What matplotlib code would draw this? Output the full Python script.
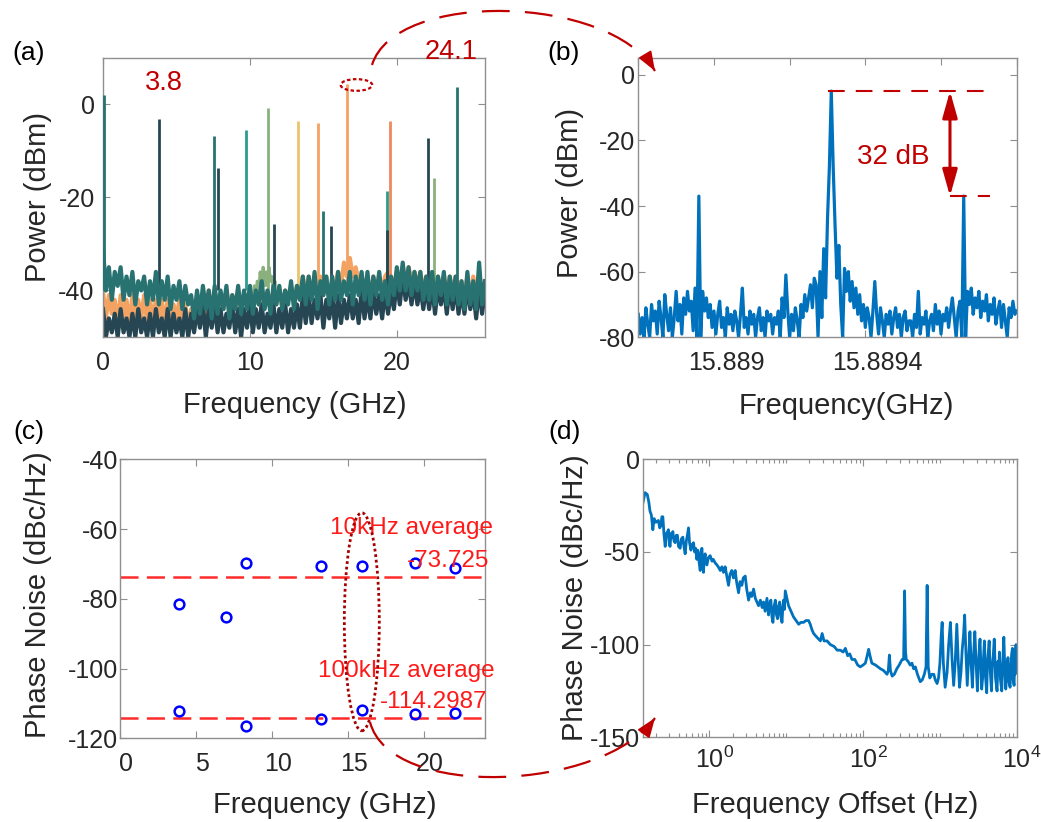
import numpy as np
import matplotlib
matplotlib.use("Agg")
import matplotlib.pyplot as plt
from matplotlib.patches import Ellipse, PathPatch, FancyArrowPatch
from matplotlib.path import Path
from matplotlib.transforms import ScaledTranslation
from matplotlib.ticker import FixedLocator, LogLocator, NullFormatter

plt.rcParams["font.family"] = ["Liberation Sans", "DejaVu Sans"]
plt.rcParams["mathtext.fontset"] = "custom"
plt.rcParams["mathtext.rm"] = "Liberation Sans"
plt.rcParams["mathtext.it"] = "Liberation Sans:italic"
plt.rcParams["mathtext.bf"] = "Liberation Sans:bold"
plt.rcParams["lines.scale_dashes"] = False
plt.rcParams["axes.unicode_minus"] = False

# ---------------------------------------------------------------- colours
DARK = "#264653"
TEAL = "#287271"
CYAN = "#2a9d8f"
GREEN = "#8ab17d"
YELLOW = "#e9c46a"
ORANGE = "#f4a261"
REDOR = "#ee8959"
BLUE = "#0072bd"
DARKRED = "#c00000"
TXT = "#262626"
FRAME = "#8f8f8f"

# ---------------------------------------------------------------- (a) RF spectra of the comb lines
a_step = 0.2          # GHz, sweep spacing of the floor traces
teal_floor = [
    -31, -40, -35, -42, -36, -39, -35, -42, -37, -41,
    -36, -43, -38, -40, -37, -43, -38, -42, -36, -43,
    -38, -42, -37, -44, -39, -42, -38, -44, -39, -43,
    -41, -46, -40, -45, -39, -44, -40, -46, -39, -45,
    -40, -44, -39, -46, -41, -44, -39, -45, -40, -44,
    -39, -45, -40, -43, -38, -44, -40, -45, -39, -43,
    -39, -44, -40, -43, -38, -44, -39, -42, -37, -43,
    -37, -42, -36, -44, -38, -41, -37, -43, -37, -42,
    -36, -42, -38, -41, -36, -43, -37, -41, -36, -42,
    -36, -43, -37, -41, -36, -42, -38, -43, -37, -41,
    -35, -40, -34, -40, -35, -41, -36, -40, -36, -42,
    -37, -42, -36, -43, -37, -41, -36, -43, -37, -42,
    -37, -43, -38, -44, -36, -43, -38, -44, -34, -43, -38,
]
dark_floor = [
    -44, -50, -46, -49, -45, -50, -44, -49, -46, -50,
    -45, -50, -44, -49, -46, -50, -45, -50, -44, -49,
    -46, -50, -44, -50, -45, -49, -46, -50, -44, -50,
    -45, -49, -44, -48, -43, -50, -44, -48, -43, -49,
    -44, -49, -45, -48, -43, -49, -44, -50, -44, -48,
    -43, -49, -44, -48, -43, -49, -45, -48, -43, -49,
    -44, -48, -43, -49, -44, -48, -43, -48, -41, -47,
    -41, -47, -42, -46, -41, -48, -42, -46, -41, -48,
    -41, -47, -42, -46, -41, -46, -42, -47, -40, -46,
    -41, -46, -40, -45, -41, -46, -40, -45, -40, -44,
    -38, -43, -37, -42, -38, -43, -38, -43, -39, -44,
    -39, -44, -39, -45, -39, -43, -39, -45, -39, -44,
    -39, -45, -40, -45, -39, -44, -40, -46, -39, -45, -40,
]
orange_floor = [
    -40, -46, -41, -45, -42, -47, -41, -46, -42, -47,
    -41, -47, -42, -46, -41, -47, -42, -46, -42, -47,
    -42, -47, -42, -48, -43, -46, -42, -47, -43, -48,
    -44, -48, -42, -46, -41, -45, -40, -44, -40, -45,
    -41, -44, -40, -43, -41, -44, -40, -44, -41, -43,
    -41, -44, -40, -43, -41, -43, -40, -43, -40, -43,
    -40, -43, -40, -42, -40, -42, -39, -42, -37, -41,
    -37, -41, -38, -41, -37, -41, -37, -42, -38, -39,
    -36, -39, -34, -37, -33, -37, -35, -38, -38, -39,
    -37, -41, -37, -40, -37, -40, -37, -36, -37, -39,
    -36, -38, -35, -38, -35, -38, -36, -39, -36, -40,
    -37, -40, -37, -40, -37, -40, -37, -41, -37, -40,
    -37, -41, -38, -41, -37, -42, -37, -41, -36, -41, -38,
]
green_hump_freq = [10.2, 10.3, 10.4, 10.5, 10.6, 10.7, 10.8, 10.9, 11.0,
                   11.1, 11.2, 11.3, 11.4, 11.5, 11.6, 11.7, 11.8]
green_hump_power = [-42, -39, -41, -38, -40, -36, -40, -35, -39,
                    -36, -39, -35, -38, -37, -40, -38, -42]
peak_freq = [0.05, 3.8, 7.55, 7.8, 9.7, 11.25, 11.65, 13.3, 14.6,
             15.0, 15.5, 16.6, 19.3, 19.35, 19.55, 22.1, 22.5, 24.1]
peak_power = [2.0, -3.2, -6.8, -13.6, -5.5, -0.7, -25.8, -3.5, -4.0,
              -23.0, -26.2, 4.4, -18.6, -27.0, -3.5, -7.3, -15.7, 3.8]
peak_color = [TEAL, DARK, TEAL, DARK, CYAN, GREEN, DARK, YELLOW, ORANGE,
              TEAL, DARK, ORANGE, CYAN, DARK, REDOR, DARK, GREEN, TEAL]
peak_base = -40

# ---------------------------------------------------------------- (b) zoom on the 15.889 GHz line
b_start = 15.8888     # GHz
b_step = 5e-6         # GHz (5 kHz)
b_power = [
    -73, -79, -74, -80, -71, -76, -80, -70, -75, -72,
    -79, -69, -74, -80, -67, -73, -78, -71, -80, -74,
    -66, -75, -70, -79, -68, -73, -66, -72, -69, -78,
    -65, -80, -37, -80, -66, -72, -68, -74, -70, -77,
    -72, -79, -73, -69, -77, -74, -80, -71, -76, -73,
    -78, -72, -75, -80, -73, -65, -77, -74, -79, -72,
    -76, -73, -80, -74, -71, -78, -74, -80, -72, -75,
    -73, -79, -74, -76, -72, -80, -68, -74, -61, -72,
    -80, -73, -78, -71, -75, -80, -70, -74, -67, -72,
    -68, -64, -71, -62, -64, -80, -60, -74, -53, -68,
    -44, -28, -5, -28, -46, -62, -52, -70, -80, -59,
    -66, -60, -69, -63, -71, -65, -73, -67, -75, -70,
    -77, -71, -74, -80, -72, -63, -73, -79, -71, -75,
    -80, -73, -76, -72, -79, -74, -71, -77, -73, -80,
    -74, -72, -78, -75, -75, -80, -73, -77, -66, -79,
    -74, -76, -72, -80, -75, -73, -78, -70, -76, -72,
    -79, -73, -75, -71, -77, -72, -68, -74, -80, -72,
    -69, -80, -37, -80, -66, -70, -65, -73, -68, -71,
    -66, -74, -69, -72, -67, -75, -70, -73, -68, -76,
    -72, -69, -77, -70, -75, -80, -71, -74, -69, -73, -72,
]
b_carrier = -5        # dBm
b_sideband = -37      # dBm

# ---------------------------------------------------------------- (c) phase noise of each line
c_freq_10k = [3.9, 7.0, 8.3, 13.2, 15.9, 19.4, 22.0]
c_pn_10k = [-81.5, -85.1, -69.6, -70.6, -70.5, -69.8, -71.1]
c_freq_100k = [3.9, 8.3, 13.2, 15.9, 19.4, 22.0]
c_pn_100k = [-112.1, -116.5, -114.5, -111.9, -113.0, -112.7]
avg_10k = -73.725
avg_100k = -114.2987

# ---------------------------------------------------------------- (d) SSB phase noise of the 15.889 GHz line
d_offset = [
    0.135, 0.145, 0.155, 0.162, 0.168, 0.175, 0.183, 0.19, 0.2, 0.216,
    0.225, 0.232, 0.24, 0.247, 0.255, 0.265, 0.275, 0.285, 0.292, 0.3,
    0.307, 0.315, 0.325, 0.333, 0.345, 0.357, 0.37, 0.382, 0.395, 0.415,
    0.43, 0.45, 0.465, 0.482, 0.5, 0.52, 0.533, 0.55, 0.573, 0.595,
    0.619, 0.64, 0.66, 0.685, 0.7, 0.718, 0.735, 0.757, 0.775, 0.796,
    0.815, 0.835, 0.855, 0.879, 0.9, 0.925, 0.97, 1.02, 1.08, 1.12,
    1.19, 1.25, 1.3, 1.38, 1.45, 1.52, 1.6, 1.68, 1.77, 1.85,
    1.95, 2.05, 2.16, 2.25, 2.39, 2.5, 2.64, 2.75, 2.92, 3.05,
    3.23, 3.4, 3.55, 3.75, 3.95, 4.15, 4.35, 4.6, 4.85, 5.06,
    5.3, 5.6, 5.87, 6.05, 6.3, 6.5, 6.7, 6.9, 7.2, 7.45,
    7.7, 7.95, 8.2, 8.5, 8.8, 9.0, 9.2, 9.45, 9.7, 10.2,
    10.7, 11.5, 12.4, 13.4, 14.5, 15.5, 16.8, 18.0, 19.5, 20.5,
    21.6, 22.7, 25.0, 27.8, 29.3, 31.0, 34.0, 37.5, 42.0, 46.0,
    50.6, 55.0, 58.8, 63.0, 67.0, 71.6, 78.0, 85.0, 91.7, 100,
    107, 113, 118, 123, 130, 145, 168, 185, 205, 213,
    220, 227, 239, 255, 275, 295, 322, 337, 347, 357,
    365, 385, 410, 433, 455, 479, 510, 555, 590, 627,
    660, 682, 705, 739, 785, 833, 870, 920, 960, 1000,
    1040, 1070, 1110, 1170, 1240, 1300, 1370, 1440, 1510, 1580,
    1660, 1730, 1800, 1880, 1950, 2030, 2100, 2180, 2270, 2360,
    2460, 2550, 2650, 2750, 2850, 2960, 3080, 3160, 3250, 3330,
    3420, 3500, 3600, 3700, 3800, 3920, 4070, 4160, 4270, 4380,
    4520, 4700, 4800, 4950, 5100, 5300, 5550, 5700, 5820, 5960,
    6150, 6390, 6550, 6800, 7000, 7200, 7400, 7550, 7700, 7950,
    8200, 8400, 8600, 8800, 9000, 9250, 9400, 9550, 9700, 9800,
    9900, 10000,
]
d_noise = [
    -24, -18, -19, -23, -28, -30, -38, -32, -34, -33,
    -37, -36, -31, -31, -40, -47, -40, -39, -38, -46,
    -47, -40, -42, -39, -44, -45, -41, -41, -47, -48,
    -43, -42, -47, -51, -44, -40, -37, -45, -49, -46,
    -45, -50, -48, -54, -49, -50, -56, -60, -52, -48,
    -55, -61, -53, -51, -56, -57, -53, -52, -55, -54,
    -56, -57, -58, -60, -58, -61, -58, -63, -68, -62,
    -60, -64, -60, -66, -72, -66, -68, -64, -63, -70,
    -76, -72, -74, -70, -75, -77, -79, -76, -80, -77,
    -82, -75, -84, -78, -76, -85, -88, -80, -76, -84,
    -86, -79, -77, -85, -88, -80, -76, -81, -71, -75,
    -79, -82, -85, -87, -89, -88, -88, -87, -87, -89,
    -92, -94, -96, -98, -94, -98, -98, -100, -101, -103,
    -103, -104, -102, -106, -105, -108, -108, -111, -112, -111,
    -110, -106, -102.5, -106, -110, -111, -113, -114, -116, -114,
    -105.6, -114, -117, -116, -113, -111, -108, -108, -71, -104,
    -108, -109, -111, -110, -113, -112, -116, -120, -119, -116,
    -112, -68, -112, -118, -116, -116, -119, -121, -118, -110,
    -95, -88, -110, -123, -115, -100, -88, -108, -122, -110,
    -89, -108, -123, -115, -103, -95, -84, -104, -122, -108,
    -93, -110, -123, -105, -93, -110, -125, -112, -103, -97,
    -112, -124, -118, -107, -98, -117, -126, -110, -104, -98,
    -114, -125, -112, -106, -97, -118, -125, -109, -115, -104,
    -119, -125, -112, -96, -113, -124, -118, -110, -107, -120,
    -123, -112, -105, -102, -119, -122, -110, -116, -103, -100,
    -115, -110,
]

# ---------------------------------------------------------------- figure helpers
W, H = 1041, 822
fig = plt.figure(figsize=(W / 100, H / 100), dpi=100)


def axes_px(left, top, right, bottom):
    return fig.add_axes([left / W, 1 - bottom / H, (right - left) / W, (bottom - top) / H])


def fxy(x, y):
    return (x / W, 1 - y / H)


def style(ax, ypad, xpad=10, xshift_px=0):
    for s in ax.spines.values():
        s.set_color(FRAME)
        s.set_linewidth(1.0)
    ax.tick_params(which="both", direction="in", top=True, right=True,
                   color=FRAME, labelcolor=TXT, labelsize=18, width=0.8)
    ax.tick_params(which="major", length=5)
    ax.tick_params(which="minor", length=3)
    ax.tick_params(axis="x", pad=xpad)
    ax.tick_params(axis="y", pad=ypad)
    if xshift_px:
        off = ScaledTranslation(xshift_px / 100, 0, fig.dpi_scale_trans)
        for lab in ax.get_xticklabels():
            lab.set_transform(lab.get_transform() + off)


def set_labels(ax, xlabel, ylabel, xpos, ypos):
    ax.set_xlabel(xlabel, fontsize=21, color=TXT, va="baseline")
    ax.set_ylabel(ylabel, fontsize=21, color=TXT, va="center")
    ax.xaxis.set_label_coords(*xpos)
    ax.yaxis.set_label_coords(*ypos)


# ---------------------------------------------------------------- (a)
axa = axes_px(103, 58, 485, 337)
a_freq = np.arange(len(teal_floor)) * a_step
floor_lw = 3.0
axa.plot(a_freq, orange_floor, color=ORANGE, lw=floor_lw, zorder=1)
axa.plot(a_freq, dark_floor, color=DARK, lw=floor_lw, zorder=2)
axa.plot(green_hump_freq, green_hump_power, color=GREEN, lw=2.2, zorder=2.5)
axa.vlines(peak_freq, peak_base, peak_power, colors=peak_color, lw=2.0, zorder=3)
axa.plot(a_freq, teal_floor, color=TEAL, lw=floor_lw, zorder=4)
axa.set_xlim(0, 26)
axa.set_ylim(-50, 10)
axa.set_xticks([0, 10, 20])
axa.set_yticks([-40, -20, 0])
axa.add_patch(Ellipse((17.25, 4.2), 2.15, 2.5, fill=False, ec=DARKRED, lw=1.6,
                      ls=(0, (2.5, 1.8)), zorder=6, clip_on=False))
style(axa, ypad=6)
set_labels(axa, "Frequency (GHz)", "Power (dBm)", (0.503, -0.272), (-0.169, 0.503))

# ---------------------------------------------------------------- (b)
axb = axes_px(638.3, 58.3, 1016.7, 337.3)
b_freq = b_start + np.arange(len(b_power)) * b_step
axb.plot(b_freq, b_power, color=BLUE, lw=2.3)
axb.set_xlim(15.8888, 15.8898)
axb.set_ylim(-80, 5)
axb.xaxis.set_major_locator(FixedLocator([15.8888, 15.889, 15.8892, 15.8894, 15.8896, 15.8898]))
axb.set_xticklabels(["", "15.889", "", "15.8894", "", ""])
axb.set_yticks([-80, -60, -40, -20, 0])
x_line_start = 15.889301
x_line_end = 15.889729
x_arrow = 15.8896237
axb.plot([x_line_start, x_line_end], [b_carrier, b_carrier], color=DARKRED, lw=1.5,
         ls=(0, (12, 8)), clip_on=False)
axb.plot([x_arrow, x_line_end], [b_sideband, b_sideband], color=DARKRED, lw=1.5,
         ls=(0, (12, 8)), clip_on=False)
axb.annotate("", xy=(x_arrow, b_carrier), xytext=(x_arrow, b_sideband),
             arrowprops=dict(arrowstyle="<|-|>,head_length=1.6,head_width=0.45",
                             mutation_scale=10, color=DARKRED, lw=2.2,
                             shrinkA=0, shrinkB=0))
axb.text(15.889473, (b_carrier + b_sideband) / 2 - 4, f"{b_carrier - b_sideband} dB",
         color=DARKRED, fontsize=20, ha="center", va="center")
style(axb, ypad=2.5, xshift_px=12)
set_labels(axb, "Frequency(GHz)", "Power (dBm)", (0.551, -0.275), (-0.180, 0.517))

# ---------------------------------------------------------------- (c)
axc = axes_px(120, 459.3, 485, 738.3)
axc.axhline(avg_10k, color="#ff2a2a", lw=1.8, ls=(0, (13, 6)))
axc.axhline(avg_100k, color="#ff2a2a", lw=1.8, ls=(0, (13, 6)))
axc.plot(c_freq_10k, c_pn_10k, ls="none", marker="o", ms=7, mfc="none",
         mec="#0000ff", mew=1.8, zorder=4)
axc.plot(c_freq_100k, c_pn_100k, ls="none", marker="o", ms=7, mfc="none",
         mec="#0000ff", mew=1.8, zorder=4)
axc.set_xlim(0, 24)
axc.set_ylim(-120, -40)
axc.set_xticks([0, 5, 10, 15, 20])
axc.set_yticks([-120, -100, -80, -60, -40])
red_txt = dict(color="#ff1a1a", fontsize=17.5, va="center", ha="left", zorder=5)
axc.text(13.8, -59.7, "10kHz average", **red_txt)
axc.text(18.85, -69.2, f"{avg_10k}", **red_txt)
axc.text(13.05, -100.7, "100kHz average", **red_txt)
axc.text(17.1, -109.6, f"{avg_100k}", **red_txt)
axc.add_patch(Ellipse((15.9, -86.6), 2.3, 62.5, fill=False, ec="#a50000", lw=2.0,
                      ls=(0, (2, 2)), zorder=6))
style(axc, ypad=1.5, xshift_px=6)
set_labels(axc, "Frequency (GHz)", "Phase Noise (dBc/Hz)", (0.56, -0.269), (-0.224, 0.514))

# ---------------------------------------------------------------- (d)
axd = axes_px(642.7, 459.3, 1016.7, 737.3)
axd.plot(d_offset, d_noise, color=BLUE, lw=2.0)
axd.set_xscale("log")
axd.set_xlim(0.135, 1e4)
axd.set_ylim(-150, 0)
axd.xaxis.set_major_locator(FixedLocator([1, 100, 1e4]))
axd.xaxis.set_minor_locator(LogLocator(base=10, subs=np.arange(1, 10) * 1.0, numticks=100))
axd.xaxis.set_minor_formatter(NullFormatter())
axd.set_xticklabels([r"$10^{0}$", r"$10^{2}$", r"$10^{4}$"])
axd.set_yticks([-150, -100, -50, 0])
style(axd, ypad=2, xpad=7, xshift_px=5)
set_labels(axd, "Frequency Offset (Hz)", "Phase Noise (dBc/Hz)", (0.514, -0.273), (-0.181, 0.503))

# ---------------------------------------------------------------- panel letters and line labels
for letter, (x, y) in {"(a)": (29, 53), "(b)": (564, 53), "(c)": (29, 432), "(d)": (565, 432)}.items():
    fig.text(*fxy(x, y), letter, fontsize=19, color="black", ha="center", va="center")
fig.text(*fxy(164, 83), "3.8", fontsize=19.5, color=DARKRED, ha="center", va="center")
fig.text(*fxy(451, 52), "24.1", fontsize=19.5, color=DARKRED, ha="center", va="center")


# ---------------------------------------------------------------- connecting arrows between panels
def dashed_arc(ctrl):
    verts = [fxy(*q) for q in ctrl]
    path = Path(verts, [Path.MOVETO, Path.CURVE4, Path.CURVE4, Path.CURVE4])
    fig.add_artist(PathPatch(path, transform=fig.transFigure, fill=False, ec=DARKRED,
                             lw=1.6, ls=(0, (20, 11)), zorder=10))
    tip = np.array(ctrl[3], float)
    d = tip - np.array(ctrl[2], float)
    d /= np.hypot(*d)
    tail = tip - 12 * d
    fig.add_artist(FancyArrowPatch(fxy(*tail), fxy(*tip), transform=fig.transFigure,
                                   arrowstyle="-|>,head_length=1.2,head_width=0.45",
                                   mutation_scale=10, color=DARKRED, lw=1.2,
                                   shrinkA=0, shrinkB=0, zorder=11))


dashed_arc([(372, 65), (395, -10), (609, -6), (655, 71)])
dashed_arc([(370, 722), (390, 800), (601.7, 792), (655, 718)])

fig.savefig("out.png", dpi=100)
